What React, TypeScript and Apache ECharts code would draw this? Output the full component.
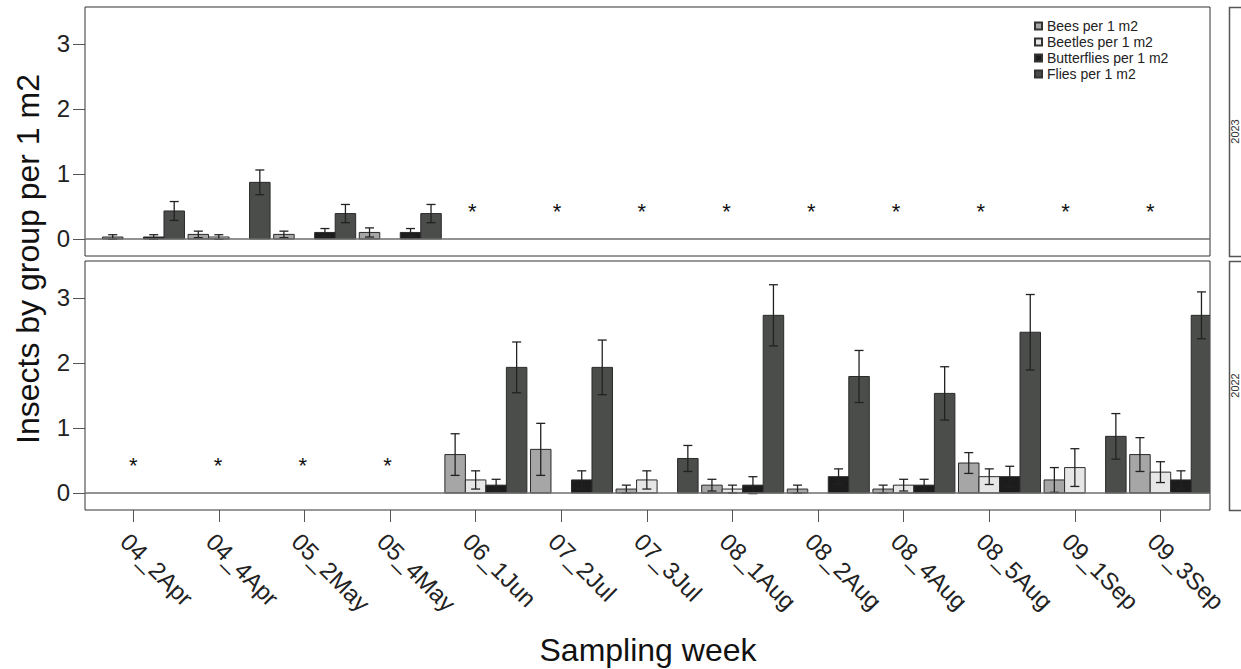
import React, { useEffect, useRef } from "react";
import * as echarts from "echarts";

// ---------- data ----------
const CATEGORIES = [
  "04_2Apr", "04_4Apr", "05_2May", "05_4May", "06_1Jun", "07_2Jul", "07_3Jul",
  "08_1Aug", "08_2Aug", "08_4Aug", "08_5Aug", "09_1Sep", "09_3Sep",
];
const GROUPS = ["Bees per 1 m2", "Beetles per 1 m2", "Butterflies per 1 m2", "Flies per 1 m2"];
const YEARS = ["2023", "2022"];
const Y_TICKS = [0, 1, 2, 3];
const N = null;

// 2023 (top panel)
const BEES_2023 = [0.03, 0.07, 0.07, 0.10, N, N, N, N, N, N, N, N, N];
const BEES_SE_2023 = [0.035, 0.05, 0.05, 0.07, N, N, N, N, N, N, N, N, N];
const BEETLES_2023 = [0, 0.03, 0, 0, N, N, N, N, N, N, N, N, N];
const BEETLES_SE_2023 = [0, 0.035, 0, 0, N, N, N, N, N, N, N, N, N];
const BUTTERFLIES_2023 = [0.03, 0, 0.10, 0.10, N, N, N, N, N, N, N, N, N];
const BUTTERFLIES_SE_2023 = [0.035, 0, 0.06, 0.06, N, N, N, N, N, N, N, N, N];
const FLIES_2023 = [0.43, 0.87, 0.39, 0.39, N, N, N, N, N, N, N, N, N];
const FLIES_SE_2023 = [0.145, 0.19, 0.14, 0.14, N, N, N, N, N, N, N, N, N];

// 2022 (bottom panel)
const BEES_2022 = [N, N, N, N, 0.59, 0.67, 0.06, 0.12, 0.06, 0.06, 0.46, 0.20, 0.59];
const BEES_SE_2022 = [N, N, N, N, 0.32, 0.40, 0.06, 0.09, 0.06, 0.06, 0.16, 0.19, 0.26];
const BEETLES_2022 = [N, N, N, N, 0.20, 0, 0.20, 0.06, 0, 0.12, 0.25, 0.39, 0.32];
const BEETLES_SE_2022 = [N, N, N, N, 0.14, 0, 0.14, 0.06, 0, 0.09, 0.12, 0.29, 0.16];
const BUTTERFLIES_2022 = [N, N, N, N, 0.12, 0.20, 0, 0.12, 0.25, 0.12, 0.25, 0, 0.20];
const BUTTERFLIES_SE_2022 = [N, N, N, N, 0.09, 0.14, 0, 0.13, 0.12, 0.09, 0.16, 0, 0.14];
const FLIES_2022 = [N, N, N, N, 1.93, 1.93, 0.53, 2.73, 1.79, 1.53, 2.47, 0.87, 2.73];
const FLIES_SE_2022 = [N, N, N, N, 0.39, 0.42, 0.20, 0.47, 0.40, 0.41, 0.58, 0.35, 0.36];

const PANELS = [
  { values: [BEES_2023, BEETLES_2023, BUTTERFLIES_2023, FLIES_2023], se: [BEES_SE_2023, BEETLES_SE_2023, BUTTERFLIES_SE_2023, FLIES_SE_2023] },
  { values: [BEES_2022, BEETLES_2022, BUTTERFLIES_2022, FLIES_2022], se: [BEES_SE_2022, BEETLES_SE_2022, BUTTERFLIES_SE_2022, FLIES_SE_2022] },
];

// ---------- styling / layout ----------
const COLORS = ["#a6a6a6", "#e6e6e6", "#1c1c1c", "#4b4d4b"];
const FONT = "'Liberation Sans', Arial, Helvetica, sans-serif";
const X_MIN = -0.564;
const X_MAX = 12.578;
const Y_MIN = -0.262;
const Y_MAX = 3.565;
const GROUP_SHIFT = 0.119;
const BAR_W = 0.2395;
const STAR_STEP = 0.99;
const STAR_Y = 0.46;
const CAP_HALF = 4.5;
const GRID_LEFT = 85;
const GRID_W = 1125;
const GRID_H = 249;
const GRID_TOPS = [7, 261];

function barSeries(p: number, j: number) {
  const vals = PANELS[p].values[j];
  const ses = PANELS[p].se[j];
  return {
    type: "custom",
    name: GROUPS[j],
    xAxisIndex: p,
    yAxisIndex: p,
    clip: true,
    itemStyle: { color: COLORS[j], borderColor: "#333", borderWidth: 1 },
    encode: { x: 0, y: 1 },
    data: vals.map((v, k) => [k, v == null ? "-" : v, ses[k] == null ? "-" : ses[k]]),
    renderItem: (params: any, api: any) => {
      const k = api.value(0);
      const v = api.value(1);
      const se = api.value(2);
      if (v == null || isNaN(v) || v === 0) return null;
      const xc = k + GROUP_SHIFT + (j - 1.5) * BAR_W;
      const p0 = api.coord([xc - BAR_W / 2, 0]);
      const p1 = api.coord([xc + BAR_W / 2, v]);
      const children: any[] = [
        {
          type: "rect",
          shape: { x: p0[0], y: p1[1], width: p1[0] - p0[0], height: p0[1] - p1[1] },
          style: { fill: COLORS[j], stroke: "#2a2a2a", lineWidth: 1 },
        },
      ];
      if (se && !isNaN(se)) {
        const top = api.coord([xc, v + se]);
        const bot = api.coord([xc, v - se]);
        const ls = { stroke: "#222", lineWidth: 1.3 };
        children.push(
          { type: "line", shape: { x1: top[0], y1: top[1], x2: bot[0], y2: bot[1] }, style: ls },
          { type: "line", shape: { x1: top[0] - CAP_HALF, y1: top[1], x2: top[0] + CAP_HALF, y2: top[1] }, style: ls },
          { type: "line", shape: { x1: bot[0] - CAP_HALF, y1: bot[1], x2: bot[0] + CAP_HALF, y2: bot[1] }, style: ls }
        );
      }
      return { type: "group", children };
    },
    ...(j === 3
      ? {
          markLine: {
            silent: true,
            symbol: ["none", "none"],
            label: { show: false },
            lineStyle: { color: "#6e6e6e", width: 1.5, type: "solid" },
            data: [{ yAxis: 0 }],
          },
        }
      : {}),
  };
}

function starSeries(p: number) {
  const empty = CATEGORIES.map((_, k) => k).filter((k) =>
    PANELS[p].values.every((arr) => arr[k] == null)
  );
  return {
    type: "custom",
    name: "no sampling " + YEARS[p],
    xAxisIndex: p,
    yAxisIndex: p,
    encode: { x: 0, y: 1 },
    data: empty.map((k) => [k * STAR_STEP, STAR_Y]),
    renderItem: (params: any, api: any) => {
      const pt = api.coord([api.value(0), api.value(1)]);
      return {
        type: "text",
        x: pt[0],
        y: pt[1] + 2,
        style: { text: "*", fontSize: 22, fontFamily: FONT, fill: "#111", align: "center", verticalAlign: "middle" },
      };
    },
  };
}

export default function App() {
  const ref = useRef<HTMLDivElement>(null);
  useEffect(() => {
    if (!ref.current) return;
    const chart = echarts.init(ref.current, null, { renderer: "svg" });
    const tickIdx = CATEGORIES.map((_, i) => i);
    const option: any = {
      animation: false,
      backgroundColor: "#ffffff",
      textStyle: { fontFamily: FONT },
      legend: {
        orient: "vertical",
        left: 1029,
        top: 14,
        itemWidth: 7,
        itemHeight: 7,
        itemGap: 2,
        icon: "rect",
        selectedMode: false,
        data: GROUPS,
        textStyle: { fontSize: 14, lineHeight: 14, color: "#222", fontFamily: FONT },
      },
      grid: GRID_TOPS.map((t) => ({
        left: GRID_LEFT,
        top: t,
        width: GRID_W,
        height: GRID_H,
        show: true,
        borderColor: "#333",
        borderWidth: 1,
        backgroundColor: "transparent",
        containLabel: false,
      })),
      xAxis: [0, 1].map((p) => ({
        type: "value",
        gridIndex: p,
        position: "bottom",
        min: X_MIN,
        max: X_MAX,
        axisLine: { show: false, onZero: false },
        splitLine: { show: false },
        axisTick: {
          show: p === 1,
          customValues: tickIdx,
          length: 12,
          lineStyle: { color: "#555", width: 1 },
        },
        axisLabel: {
          show: p === 1,
          customValues: tickIdx,
          formatter: (v: number) => CATEGORIES[Math.round(v)] ?? "",
          rotate: -45,
          align: "left",
          verticalAlign: "top",
          margin: 19,
          fontSize: 24,
          color: "#222",
          fontFamily: FONT,
        },
      })),
      yAxis: [0, 1].map((p) => ({
        type: "value",
        gridIndex: p,
        position: "left",
        min: Y_MIN,
        max: Y_MAX,
        axisLine: { show: false, onZero: false },
        splitLine: { show: false },
        axisTick: { show: true, customValues: Y_TICKS, length: 12, lineStyle: { color: "#555", width: 1 } },
        axisLabel: {
          show: true,
          customValues: Y_TICKS,
          margin: 15,
          fontSize: 24,
          color: "#222",
          fontFamily: FONT,
        },
      })),
      series: [
        ...[0, 1, 2, 3].map((j) => barSeries(0, j)),
        ...[0, 1, 2, 3].map((j) => barSeries(1, j)),
        starSeries(0),
        starSeries(1),
      ],
      graphic: [
        {
          type: "text",
          x: 28,
          y: 259,
          rotation: Math.PI / 2,
          style: {
            text: "Insects by group per 1 m2",
            fontSize: 32,
            fontFamily: FONT,
            fill: "#111",
            align: "center",
            verticalAlign: "middle",
          },
        },
        {
          type: "text",
          x: 648,
          y: 650,
          style: {
            text: "Sampling week",
            fontSize: 32,
            fontFamily: FONT,
            fill: "#111",
            align: "center",
            verticalAlign: "middle",
          },
        },
        ...GRID_TOPS.map((t, p) => ({
          type: "group",
          children: [
            {
              type: "rect",
              shape: { x: 1229.5, y: t + 0.5, width: 30, height: GRID_H },
              style: { fill: "none", stroke: "#555", lineWidth: 1.5 },
            },
            {
              type: "text",
              x: 1235,
              y: t + GRID_H / 2,
              rotation: Math.PI / 2,
              style: {
                text: YEARS[p],
                fontSize: 11,
                fontFamily: FONT,
                fill: "#333",
                align: "center",
                verticalAlign: "middle",
              },
            },
          ],
        })),
      ],
    };
    chart.setOption(option);
    return () => chart.dispose();
  }, []);
  return (
    <div
      ref={ref}
      style={{ position: "fixed", left: 0, top: 0, width: 1241, height: 669, background: "#fff" }}
    />
  );
}
